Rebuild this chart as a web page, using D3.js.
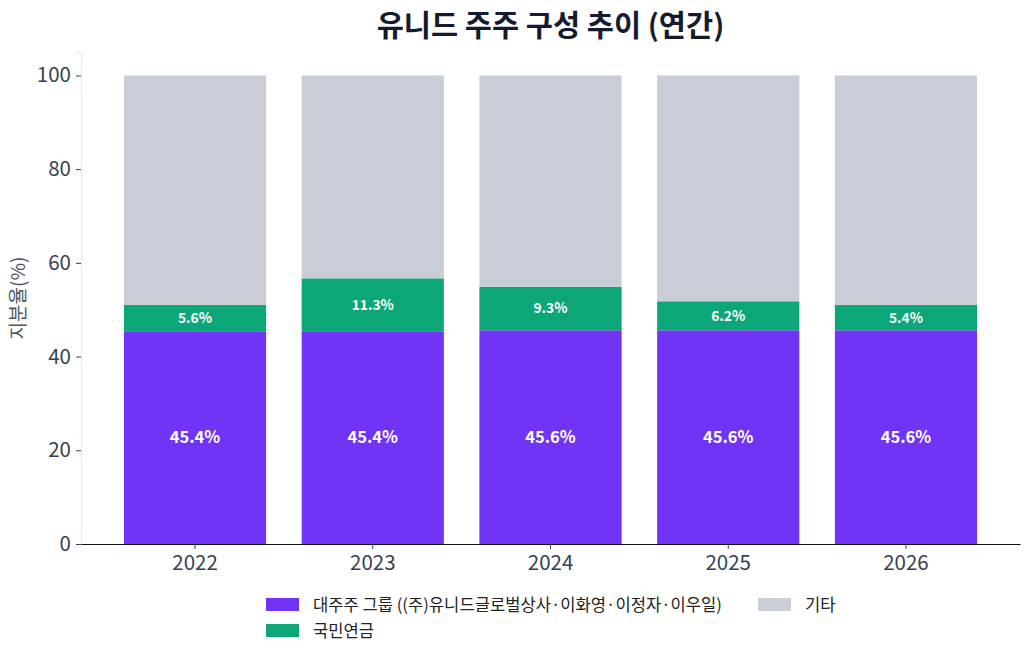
<!DOCTYPE html>
<html>
<head>
<meta charset="utf-8">
<script src="https://cdn.jsdelivr.net/npm/d3@7"></script>
<style>
  body { margin: 0; background: #fff; }
  svg text { font-family: "Noto Sans CJK KR", "Noto Sans", sans-serif; }
</style>
</head>
<body>
<svg id="chart" width="1030" height="657"></svg>
<script>
// data
const years = ["2022", "2023", "2024", "2025", "2026"];
const majorHolders = [45.4, 45.4, 45.6, 45.6, 45.6];
const nationalPension = [5.6, 11.3, 9.3, 6.2, 5.4];
const others = [49.0, 43.3, 45.1, 48.2, 49.0];
const yTicks = [0, 20, 40, 60, 80, 100];

const seriesNames = ["대주주 그룹 ((주)유니드글로벌상사·이화영·이정자·이우일)", "국민연금", "기타"];
const seriesColors = ["#7133f5", "#0ca678", "#c9cdd6"];

const margin = { top: 52, right: 10, bottom: 113, left: 81 };
const width = 1030, height = 657;

const svg = d3.select("#chart");

const rows = years.map((y, i) => ({ year: y, s0: majorHolders[i], s1: nationalPension[i], s2: others[i] }));
const stack = d3.stack().keys(["s0", "s1", "s2"])(rows);

const x = d3.scaleBand()
    .domain(years)
    .range([margin.left, width - margin.right])
    .paddingInner(0.2)
    .paddingOuter(0.2415);

const y = d3.scaleLinear()
    .domain([0, 105])
    .range([height - margin.bottom, margin.top]);

// title
svg.append("text")
    .attr("x", (margin.left + width - margin.right) / 2)
    .attr("y", 36)
    .attr("text-anchor", "middle")
    .attr("font-size", 29.5)
    .attr("font-weight", 700)
    .attr("fill", "#161a2e")
    .text("유니드 주주 구성 추이 (연간)");

// bars
stack.forEach((layer, k) => {
    svg.append("g")
        .selectAll("rect")
        .data(layer)
        .join("rect")
        .attr("x", d => x(d.data.year))
        .attr("width", x.bandwidth())
        .attr("y", d => y(d[1]))
        .attr("height", d => y(d[0]) - y(d[1]))
        .attr("fill", seriesColors[k]);
});

// segment labels
const labelGroup = svg.append("g").attr("fill", "#fff").attr("font-weight", 700).attr("text-anchor", "middle");
labelGroup.selectAll("text.major")
    .data(stack[0])
    .join("text")
    .attr("class", "major")
    .attr("x", d => x(d.data.year) + x.bandwidth() / 2)
    .attr("y", d => y((d[0] + d[1]) / 2))
    .attr("dy", "0.35em")
    .attr("font-size", 16.5)
    .text(d => d.data.s0.toFixed(1) + "%");

labelGroup.selectAll("text.pension")
    .data(stack[1])
    .join("text")
    .attr("class", "pension")
    .attr("x", d => x(d.data.year) + x.bandwidth() / 2)
    .attr("y", d => y((d[0] + d[1]) / 2))
    .attr("dy", "0.35em")
    .attr("font-size", 13.8)
    .text(d => d.data.s1.toFixed(1) + "%");

// axes
const yAxis = svg.append("g")
    .attr("transform", `translate(${margin.left},0)`)
    .call(d3.axisLeft(y).tickValues(yTicks).tickSize(5).tickPadding(5));
yAxis.select(".domain").attr("stroke", "#e5e7eb");
yAxis.selectAll(".tick line").attr("stroke", "#374151");
yAxis.selectAll(".tick text")
    .attr("font-size", 20.5)
    .attr("fill", "#374151")
    .style("font-family", "'Noto Sans CJK KR', sans-serif");

const xAxis = svg.append("g")
    .attr("transform", `translate(0,${height - margin.bottom})`)
    .call(d3.axisBottom(x).tickSize(5).tickPadding(6).tickSizeOuter(0));
xAxis.select(".domain").attr("stroke", "#111");
xAxis.selectAll(".tick line").attr("stroke", "#374151");
xAxis.selectAll(".tick text")
    .attr("font-size", 20.5)
    .attr("fill", "#374151")
    .style("font-family", "'Noto Sans CJK KR', sans-serif");

// y label
svg.append("text")
    .attr("transform", `translate(25,${(y(0) + y(105)) / 2}) rotate(-90)`)
    .attr("text-anchor", "middle")
    .attr("font-size", 19)
    .attr("fill", "#4b5563")
    .text("지분율(%)");

// legend
const legendItems = [
    { i: 0, x: 266, y: 605 },
    { i: 2, x: 758, y: 605 },
    { i: 1, x: 266, y: 631 }
];
const legend = svg.append("g");
legendItems.forEach(item => {
    legend.append("rect")
        .attr("x", item.x)
        .attr("y", item.y - 7)
        .attr("width", 33)
        .attr("height", 13)
        .attr("fill", seriesColors[item.i]);
    legend.append("text")
        .attr("x", item.x + 47)
        .attr("y", item.y)
        .attr("dy", "0.35em")
        .attr("font-size", 16.6)
        .attr("fill", "#222")
        .text(seriesNames[item.i]);
});
</script>
</body>
</html>
